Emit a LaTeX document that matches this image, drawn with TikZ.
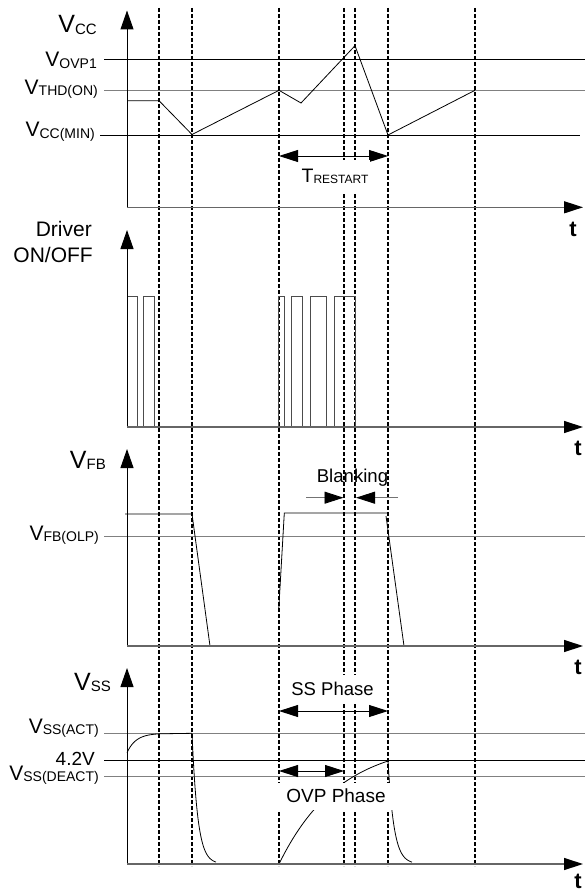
\documentclass[tikz,border=0pt]{standalone}
\usepackage{fontspec}
\setmainfont{Liberation Sans}
\usetikzlibrary{arrows.meta}
\newcommand{\bigV}[1]{{\fontsize{25}{25}\selectfont V}\raisebox{-1.5pt}{\fontsize{15}{15}\selectfont #1}}
\newcommand{\midV}[1]{{\fontsize{21}{21}\selectfont V}\raisebox{-1.5pt}{\fontsize{14}{14}\selectfont #1}}
\begin{document}
\begin{tikzpicture}[x=1pt,y=-1pt,
  tip/.style={-{Triangle[length=19pt,width=12pt]}},
  dim/.style={{Triangle[length=19pt,width=12pt]}-{Triangle[length=19pt,width=12pt]}, line width=0.9pt},
  halfdim/.style={-{Triangle[length=19pt,width=12pt,color=black]}, line width=0.9pt, draw=black!55},
  guide/.style={line width=1.2pt, dash pattern=on 4pt off 2pt},
  yaxis/.style={line width=1pt, -{Triangle[length=19pt,width=13pt]}},
  taxis/.style={line width=1.3pt, draw=black!60, -{Triangle[length=19pt,width=12pt,color=black]}},
  lvl/.style={line width=0.9pt},
  lvlg/.style={line width=0.9pt, draw=black!50},
  wave/.style={line width=0.8pt},
  pulse/.style={line width=0.8pt, draw=black!70},
  lab/.style={inner sep=0pt, anchor=base east},
  tlab/.style={inner sep=0pt, anchor=base, font=\fontsize{22}{22}\selectfont\bfseries},
  gap/.style={fill=white, inner xsep=2pt, inner ysep=0pt}
]
\useasboundingbox (0,0) rectangle (585,891);

% dashed time markers
\foreach \x in {159,192,279,344,355,388,475}
  \draw[guide] (\x,8) -- (\x,866);

% ---------------- Panel 1: VCC ----------------
\draw[lvl]  (104,59.3) -- (585,59.3);
\draw[lvlg] (104,90.3) -- (585,90.3);
\draw[lvl]  (100,135) -- (580,135);
\draw[wave] (127,100.7) -- (159,100.7) -- (192,134.5) -- (279,90.3) -- (301,103)
  -- (355,45.7) -- (388,135) -- (475,90.3);
\coordinate (o1) at (127,207.3);
\coordinate (y1) at (127,10.5);
\coordinate (t1) at (583,207.3);
\draw[yaxis] (o1) -- (y1);
\draw[taxis] (o1) -- (t1);
\coordinate (tra) at (279,156);
\coordinate (trb) at (388,156);
\draw[dim] (tra) -- (trb);
\node[gap, minimum height=32pt] (trest) at (335,176)
  {{\fontsize{19.5}{19.5}\selectfont T}\raisebox{-1.3pt}{\fontsize{12}{12}\selectfont RESTART}};
\node[lab] (vcc) at (97,33) {\bigV{CC}};
\node[lab] (vovp) at (97,66.7) {\midV{OVP1}};
\node[lab] (vthd) at (98,94) {\midV{THD(ON)}};
\node[lab] (vmin) at (95,136.7) {\midV{CC(MIN)}};
\node[tlab] (tl1) at (573,236.7) {t};

% ---------------- Panel 2: Driver ----------------
\draw[pulse] (127,296) -- (137,296) -- (137,427) -- (143,427) -- (143,296) -- (154,296) -- (154,427);
\draw[pulse] (278.5,427) -- (278.5,296) -- (284,296) -- (284,427) -- (291,427) -- (291,296)
  -- (302,296) -- (302,427) -- (310,427) -- (310,296) -- (326,296) -- (326,427)
  -- (334,427) -- (334,296) -- (355,296) -- (355,427);
\coordinate (o2) at (127,427);
\coordinate (y2) at (127,230);
\coordinate (t2) at (583,427);
\draw[yaxis] (o2) -- (y2);
\draw[taxis] (o2) -- (t2);
\node[lab, font=\fontsize{21}{21}\selectfont] (drv) at (92,236.7) {Driver};
\node[lab, font=\fontsize{21}{21}\selectfont] (onoff) at (93,262.3) {ON/OFF};
\node[tlab] (tl2) at (578,455) {t};

% ---------------- Panel 3: VFB ----------------
\draw[lvlg] (104,536) -- (585,536);
\draw[wave] (125,514) -- (192,514) -- (210,646);
\draw[wave] (278.7,610) -- (284.3,513) -- (388,513);
\draw[wave] (386,516) -- (404,646);
\coordinate (o3) at (127,646);
\coordinate (y3) at (127,449);
\coordinate (t3) at (583,646);
\draw[yaxis] (o3) -- (y3);
\draw[taxis] (o3) -- (t3);
\coordinate (bla) at (306,497.7);
\coordinate (blb) at (343.5,497.7);
\coordinate (blc) at (398,497.7);
\coordinate (bld) at (356,497.7);
\draw[halfdim] (bla) -- (blb);
\draw[halfdim] (blc) -- (bld);
\node[inner sep=0pt, anchor=base, font=\fontsize{18.6}{18.6}\selectfont] (blank) at (352.5,482.7) {Blanking};
\node[lab] (vfb) at (106,468.3) {\bigV{FB}};
\node[lab] (vfbolp) at (99,540) {\midV{FB(OLP)}};
\node[tlab] (tl3) at (578,674) {t};

% ---------------- Panel 4: VSS ----------------
\draw[lvlg] (104,733.3) -- (585,733.3);
\draw[lvl]  (104,760) -- (585,760);
\draw[lvlg] (104,776.7) -- (585,776.7);
\draw[wave] plot[domain=127:160, samples=30] (\x,{733.3+19.4*exp(-(\x-127)/9)}) -- (192,733.3);
\draw[wave] plot[domain=192:216, samples=40] (\x,{864-130.7*exp(-(\x-192)/5.7)});
\draw[wave] plot[domain=279:388, samples=40] (\x,{864-123*(1-exp(-(\x-279)/60))});
\draw[wave] plot[domain=388:412, samples=40] (\x,{864-103*exp(-(\x-388)/6)});
\coordinate (o4) at (127,864);
\coordinate (y4) at (127,668);
\coordinate (t4) at (583,864);
\draw[yaxis] (o4) -- (y4);
\draw[taxis] (o4) -- (t4);
\coordinate (ssa) at (279,711);
\coordinate (ssb) at (388,711);
\draw[dim] (ssa) -- (ssb);
\coordinate (ova) at (279,771);
\coordinate (ovb) at (344,771);
\draw[dim] (ova) -- (ovb);
\node[gap, minimum height=28pt, font=\fontsize{18.5}{18.5}\selectfont] (ssph) at (332.5,689) {SS Phase};
\node[fill=white, inner sep=0pt, minimum width=120pt, minimum height=27pt, font=\fontsize{19}{19}\selectfont] (ovph) at (336,796) {OVP Phase};
\node[lab] (vss) at (111,690) {\bigV{SS}};
\node[lab] (vssact) at (99,733.3) {\midV{SS(ACT)}};
\node[lab, font=\fontsize{19}{19}\selectfont] (v42) at (95,765) {4.2V};
\node[lab] (vssdeact) at (99,780) {\midV{SS(DEACT)}};
\node[tlab] (tl4) at (578,888) {t};
\end{tikzpicture}
\end{document}
